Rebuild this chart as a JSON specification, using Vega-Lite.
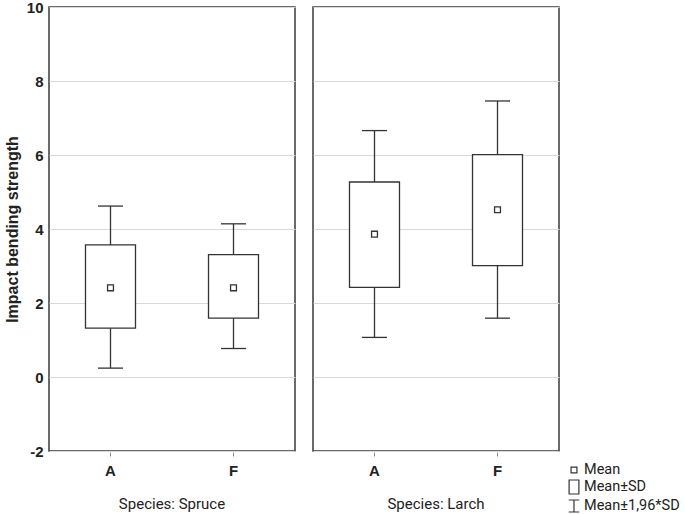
{
  "$schema": "https://vega.github.io/schema/vega-lite/v6.json",
  "padding": {"left": 4, "top": 0, "right": 0, "bottom": 0},
  "background": "white",
  "config": {
    "font": "Liberation Sans",
    "view": {"stroke": "#3a3a3a", "strokeWidth": 1.5},
    "facet": {"spacing": 16},
    "axisY": {"grid": true, "gridColor": "#d9d9d9", "gridWidth": 1, "domain": false, "ticks": false, "labelFontSize": 15, "labelFontWeight": "bold", "labelColor": "#222", "labelPadding": 5, "titleFontSize": 16, "titleFontWeight": "bold", "titleColor": "#222", "titlePadding": 6},
    "axisX": {"title": null, "labelAngle": 0, "grid": false, "domain": false, "tickSize": 4, "tickColor": "#888", "labelFontSize": 15, "labelFontWeight": "bold", "labelColor": "#222", "labelPadding": 7}
  },
  "data": {"values": [
    {"species": "Species: Spruce", "treatment": "A", "mean": 2.41, "sdlo": 1.32, "sdhi": 3.57, "lo": 0.24, "hi": 4.62},
    {"species": "Species: Spruce", "treatment": "F", "mean": 2.41, "sdlo": 1.59, "sdhi": 3.31, "lo": 0.77, "hi": 4.14},
    {"species": "Species: Larch", "treatment": "A", "mean": 3.86, "sdlo": 2.42, "sdhi": 5.27, "lo": 1.07, "hi": 6.66},
    {"species": "Species: Larch", "treatment": "F", "mean": 4.52, "sdlo": 3.01, "sdhi": 6.01, "lo": 1.59, "hi": 7.46}
  ]},
  "facet": {
    "column": {"field": "species", "type": "nominal", "sort": ["Species: Spruce", "Species: Larch"],
      "header": {"title": null, "labelOrient": "bottom", "labelFontSize": 15, "labelFont": "Roboto", "labelColor": "#222", "labelPadding": 19}}
  },
  "spec": {
    "width": 246,
    "height": 444,
    "layer": [
      {
        "mark": {"type": "rule", "color": "#333", "strokeWidth": 1.3},
        "encoding": {
          "x": {"field": "treatment", "type": "nominal", "scale": {"paddingInner": 0, "paddingOuter": 0}},
          "y": {"field": "lo", "type": "quantitative", "scale": {"domain": [-2, 10], "nice": false}, "title": "Impact bending strength",
            "axis": {"values": [-2, 0, 2, 4, 6, 8, 10], "labelExpr": "datum.value < 0 ? '-' + abs(datum.value) : '' + datum.value"}},
          "y2": {"field": "hi"}
        }
      },
      {
        "mark": {"type": "tick", "orient": "horizontal", "size": 25, "thickness": 1.3, "color": "#333", "opacity": 1},
        "encoding": {
          "x": {"field": "treatment", "type": "nominal"},
          "y": {"field": "lo", "type": "quantitative"}
        }
      },
      {
        "mark": {"type": "tick", "orient": "horizontal", "size": 25, "thickness": 1.3, "color": "#333", "opacity": 1},
        "encoding": {
          "x": {"field": "treatment", "type": "nominal"},
          "y": {"field": "hi", "type": "quantitative"}
        }
      },
      {
        "mark": {"type": "bar", "width": 50, "fill": "white", "stroke": "#333", "strokeWidth": 1.3},
        "encoding": {
          "x": {"field": "treatment", "type": "nominal"},
          "y": {"field": "sdlo", "type": "quantitative"},
          "y2": {"field": "sdhi"}
        }
      },
      {
        "mark": {"type": "point", "filled": false, "color": "#333", "strokeWidth": 1.3, "size": 196, "opacity": 1},
        "encoding": {
          "x": {"field": "treatment", "type": "nominal"},
          "y": {"field": "mean", "type": "quantitative"},
          "shape": {"datum": "Mean", "type": "nominal",
            "scale": {"domain": ["Mean", "Mean±SD", "Mean±1,96*SD"], "range": ["M-0.42,-0.42H0.42V0.42H-0.42Z", "M-0.7,-1H0.7V1H-0.7Z", "M-0.75,-0.86H0.75M0,-0.86V0.86M-0.75,0.86H0.75"]},
            "legend": {"title": null, "orient": "none", "legendX": 517, "legendY": 455, "symbolSize": 196, "symbolFillColor": "white", "symbolStrokeColor": "#333", "symbolStrokeWidth": 1.2, "labelFontSize": 14.5, "labelFont": "Roboto", "labelColor": "#222", "labelOffset": 2, "rowPadding": 0}
          }
        }
      }
    ]
  }
}
